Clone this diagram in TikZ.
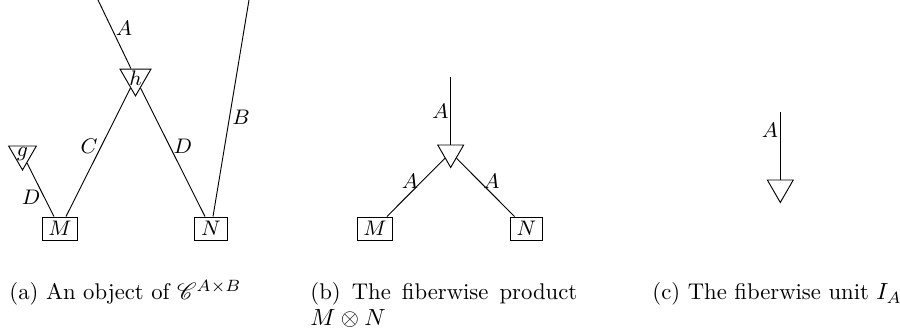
\documentclass[tikz,border=0pt]{standalone}
\usepackage{mathrsfs}
\usetikzlibrary{shapes.geometric,calc}
\begin{document}
\begin{tikzpicture}[x=0.4274pt, y=-0.4274pt,
  lbl/.style={font=\fontsize{9.2}{10}\selectfont, inner sep=1.5pt},
  boxnode/.style={draw, font=\fontsize{9.2}{10}\selectfont, inner xsep=2.7pt, inner ysep=0pt, minimum height=9.83pt},
  tri/.style={draw, regular polygon, regular polygon sides=3, shape border rotate=180, inner sep=-1.5pt, font=\fontsize{9.2}{10}\selectfont},
  captext/.style={font=\fontsize{9.7}{11}\selectfont, inner sep=0pt, anchor=base west}]
\useasboundingbox (0,0) rectangle (900,335);
% (a)
\coordinate (atop) at (98,0);
\coordinate (btop) at (249,0);
\node[tri, minimum size=15.3pt] (h) at (135.5,78) {$h$};
\node[tri, minimum size=13.7pt] (g) at (22.5,154) {$g$};
\node[boxnode] (Ma) at (60,228.5) {$M$};
\node[boxnode] (Na) at (211,228.5) {$N$};
\draw (atop) -- node[lbl, right, pos=0.42]{$A$} (h);
\draw (btop) -- node[lbl, right, pos=0.54, inner sep=1pt]{$B$} (Na);
\draw (g) -- node[lbl, left, pos=0.64]{$D$} (Ma);
\draw (h) -- node[lbl, left, pos=0.45]{$C$} (Ma);
\draw (h) -- node[lbl, right, pos=0.45]{$D$} (Na);
% (b)
\coordinate (ptop) at (450.7,77);
\node[tri, minimum size=12.8pt] (p) at (450.7,152.5) {};
\node[boxnode] (Mb) at (375,228.5) {$M$};
\node[boxnode] (Nb) at (526.5,228.5) {$N$};
\draw (ptop) -- node[lbl, left, pos=0.51, inner sep=0.7pt]{$A$} (p);
\draw (p) -- node[lbl, left, pos=0.395]{$A$} (Mb);
\draw (p) -- node[lbl, right, pos=0.395]{$A$} (Nb);
% (c)
\coordinate (ctop) at (780.3,112);
\node[tri, minimum size=12.8pt] (u) at (780.3,187.5) {};
\draw (ctop) -- node[lbl, left, pos=0.265, inner sep=0.7pt]{$A$} (u);
% captions
\node[captext] (capa) at (9,300) {(a) An object of $\mathscr{C}^{A\times B}$};
\node[captext, align=left] (capb) at (310,325.7) {\makebox[114pt][s]{(b) The fiberwise product}\\$M\otimes N$};
\node[captext] (capc) at (652,300) {(c) The fiberwise unit $I_A$};
\end{tikzpicture}
\end{document}
